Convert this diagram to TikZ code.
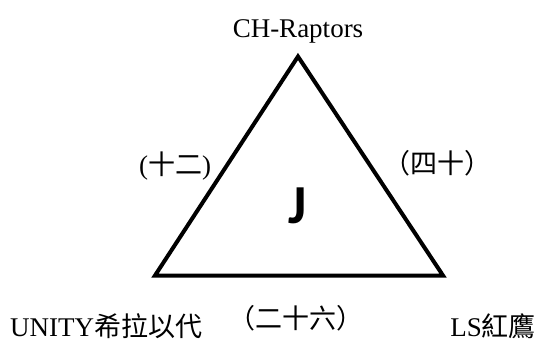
\documentclass[tikz,border=0pt]{standalone}
\usepackage{fontspec}
\setmainfont{Liberation Serif}
\newfontfamily\cjk{Noto Sans CJK TC}
\newfontfamily\jfont{Carlito}
\begin{document}
\begin{tikzpicture}[x=1pt,y=1pt,
  lbl/.style={inner sep=0pt,font=\fontsize{27}{29}\selectfont},
  edge/.style={line width=4pt,line join=miter,black}]
\useasboundingbox (0,0) rectangle (539,349);
\coordinate (top) at (298,292.5);
\coordinate (bl) at (155,73.5);
\coordinate (br) at (443,73.5);
\draw[edge] (top) -- (bl) -- (br) -- cycle;
\node[inner sep=0pt,anchor=base,font=\jfont\bfseries\fontsize{55}{57}\selectfont] (j) at (298,126) {J};
\node[lbl,anchor=base] (ch) at (298,311) {CH-Raptors};
\node[lbl] (l12) at (175,183) {(\cjk 十二\rmfamily)};
\node[lbl] (l40) at (437,186) {\cjk （四十）};
\node[lbl,anchor=base west] (unity) at (10,13) {UNITY{\cjk 希拉以代}};
\node[lbl] (l26) at (296,31) {\cjk （二十六）};
\node[lbl,anchor=base east] (ls) at (536,13) {LS{\cjk 紅鷹}};
\end{tikzpicture}
\end{document}
